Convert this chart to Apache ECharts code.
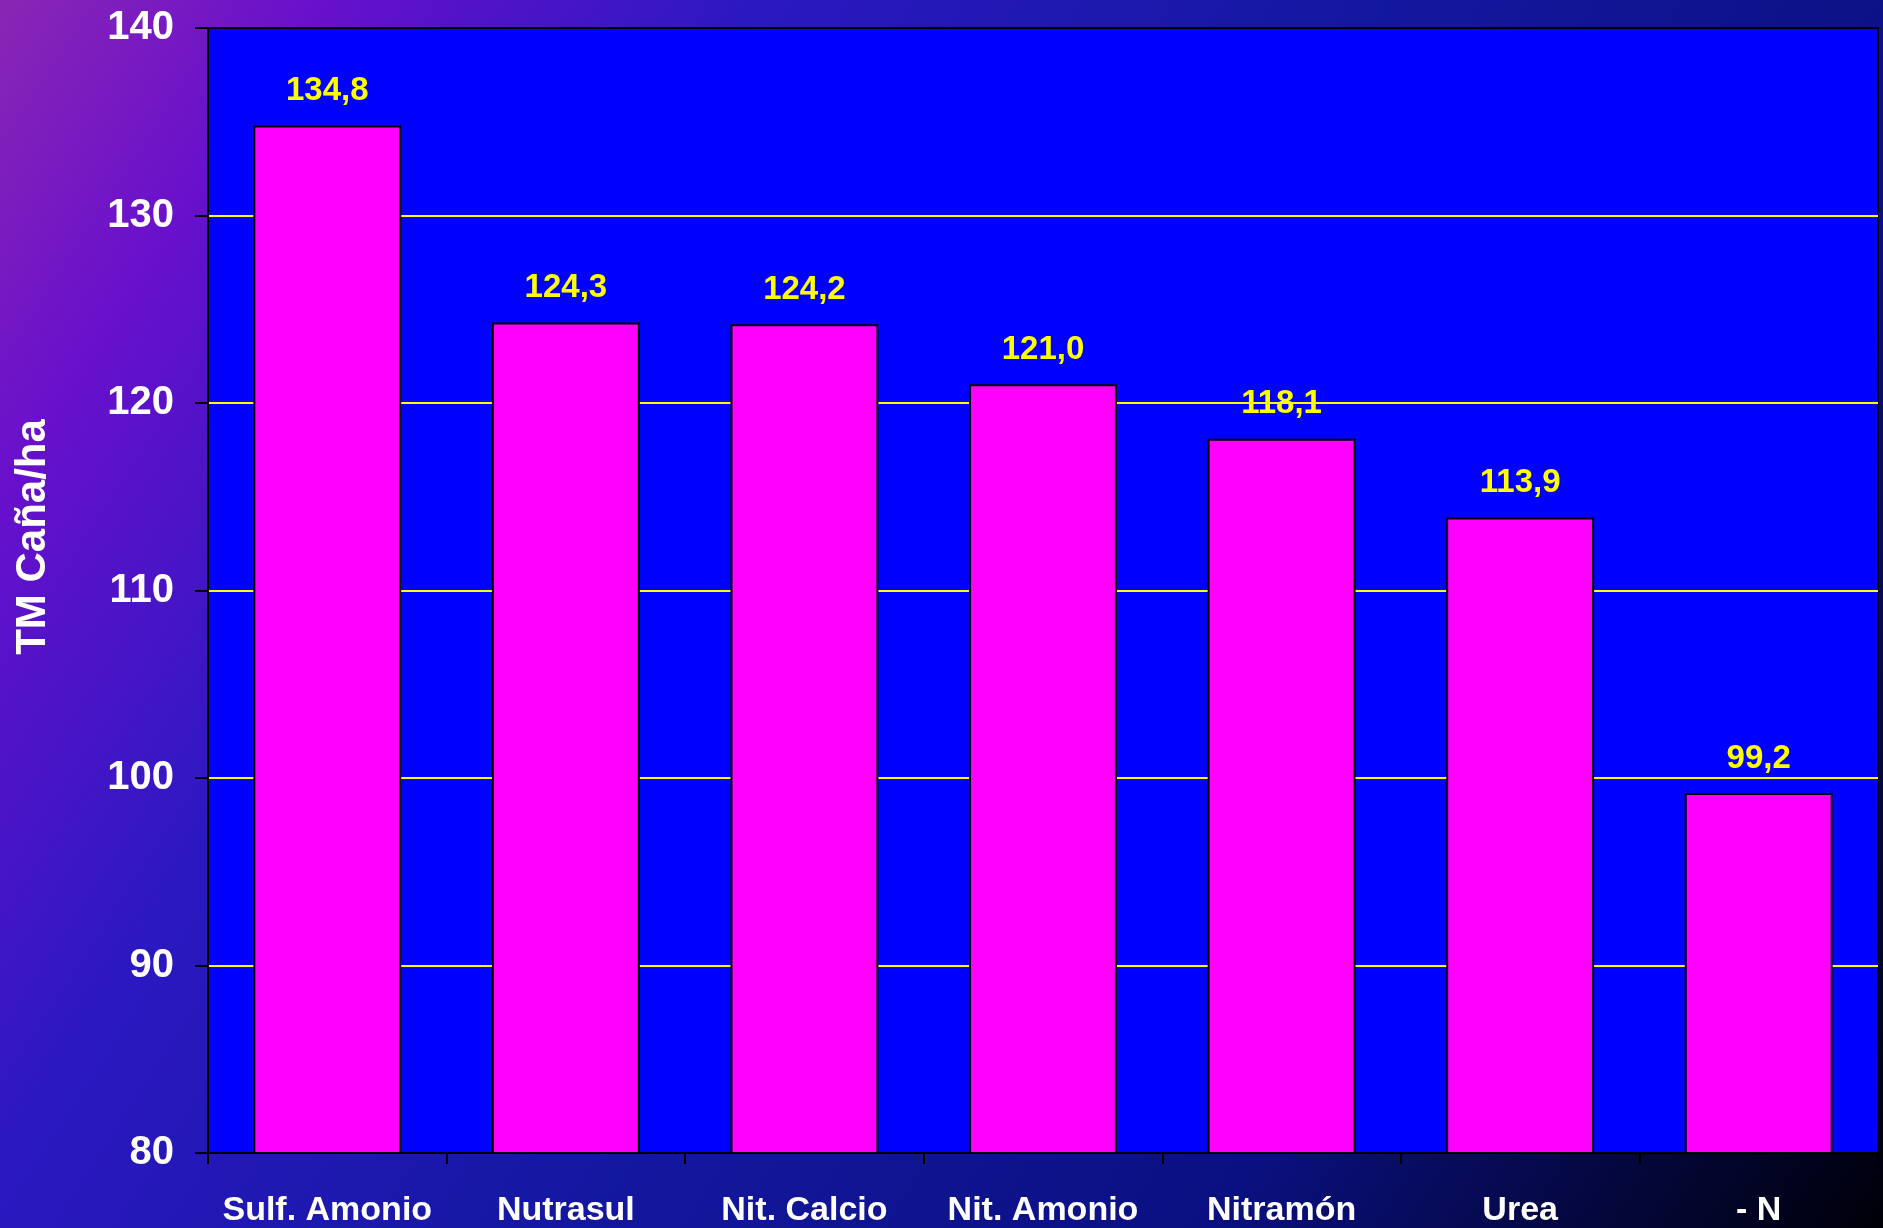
<!DOCTYPE html>
<html>
<head>
<meta charset="utf-8">
<script src="https://cdn.jsdelivr.net/npm/echarts@6/dist/echarts.min.js"></script>
<style>
  html, body { margin: 0; padding: 0; }
  #main { width: 1883px; height: 1228px; }
</style>
</head>
<body>
<div id="main"></div>
<script>
var categories = ['Sulf. Amonio', 'Nutrasul', 'Nit. Calcio', 'Nit. Amonio', 'Nitramón', 'Urea', '- N'];
var yields = [134.8, 124.3, 124.2, 121.0, 118.1, 113.9, 99.2];
var yTicks = [80, 90, 100, 110, 120, 130, 140];

var myChart = echarts.init(document.getElementById('main'));

var font = '"Liberation Sans", Arial, sans-serif';

var option = {
    // purple top-left fading to blue then almost black bottom-right
    backgroundColor: new echarts.graphic.LinearGradient(0, 0, 1, 1, [
        { offset: 0, color: '#8a26b4' },
        { offset: 0.12, color: '#6810cc' },
        { offset: 0.28, color: '#2c18c2' },
        { offset: 0.5, color: '#1418a2' },
        { offset: 0.75, color: '#0a1080' },
        { offset: 1, color: '#000008' }
    ]),
    animation: false,
    grid: {
        left: 208,
        top: 28,
        right: 5,
        bottom: 72,
        show: true,
        backgroundColor: '#0000ff',
        borderColor: '#000000',
        borderWidth: 2
    },
    xAxis: {
        type: 'category',
        data: categories,
        axisLine: { lineStyle: { color: '#000000', width: 2 } },
        axisTick: { show: true, length: 11, lineStyle: { color: '#000000', width: 2 } },
        axisLabel: {
            interval: 0,
            color: '#ffffff',
            fontFamily: font,
            fontWeight: 'bold',
            fontSize: 34,
            margin: 41
        }
    },
    yAxis: {
        type: 'value',
        min: yTicks[0],
        max: yTicks[yTicks.length - 1],
        interval: 10,
        axisLine: { show: true, lineStyle: { color: '#000000', width: 2 } },
        axisTick: { show: true, length: 13, lineStyle: { color: '#000000', width: 2 } },
        axisLabel: {
            color: '#ffffff',
            fontFamily: font,
            fontWeight: 'bold',
            fontSize: 40,
            margin: 34
        },
        splitLine: { show: true, showMaxLine: false, lineStyle: { color: '#ffff00', width: 2 } }
    },
    graphic: [{
        type: 'text',
        x: 33,
        y: 537,
        rotation: Math.PI / 2,
        style: {
            text: 'TM Caña/ha',
            fill: '#ffffff',
            font: 'bold 42px ' + font,
            align: 'center',
            verticalAlign: 'middle'
        }
    }],
    series: [{
        name: 'TM Caña/ha',
        type: 'bar',
        data: yields,
        barCategoryGap: '38%',
        itemStyle: { color: '#ff00ff', borderColor: '#000000', borderWidth: 2 },
        label: {
            show: true,
            position: 'top',
            distance: 18,
            color: '#ffff00',
            fontFamily: font,
            fontWeight: 'bold',
            fontSize: 33,
            formatter: function (p) { return p.value.toFixed(1).replace('.', ','); }
        }
    }]
};

myChart.setOption(option);
</script>
</body>
</html>
